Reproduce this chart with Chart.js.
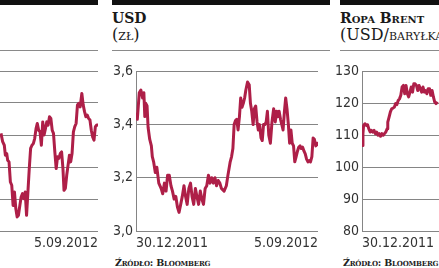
<!DOCTYPE html>
<html><head><meta charset="utf-8">
<script src="https://cdn.jsdelivr.net/npm/chart.js@4/dist/chart.umd.min.js"></script>
<style>
html,body{margin:0;padding:0;background:#fff;width:439px;height:268px;overflow:hidden;position:relative;}
.panel{position:absolute;top:0;width:218px;height:268px;}
.bar{position:absolute;left:0;top:0;width:218px;height:5px;background:#111;}
.rule{position:absolute;left:0;top:50px;width:218px;height:1px;background:#8a8a8a;}
.title{position:absolute;left:0;top:10px;font:bold 14px/16px "DejaVu Serif",serif;color:#1a1a1a;white-space:nowrap;font-variant:small-caps;}
.sub{position:absolute;left:0;top:26px;font:16px/17px "DejaVu Serif",serif;color:#1a1a1a;white-space:nowrap;font-variant:small-caps;}
.src{position:absolute;left:3px;top:257px;font:bold 9.5px/11px "DejaVu Serif",serif;color:#222;white-space:nowrap;font-variant:small-caps;letter-spacing:-0.2px;}
canvas{position:absolute;left:0;top:60px;}
</style></head>
<body>
<div class="panel" style="left:-120px">
  <div class="bar"></div><div class="rule"></div>
  <canvas id="cLeft" width="216" height="195" style="left:6px"></canvas>
</div>
<div class="panel" style="left:112px">
  <div class="bar"></div>
  <div class="title">USD</div>
  <div class="sub">(zł)</div>
  <div class="rule"></div>
  <canvas id="cUsd" width="210" height="195"></canvas>
  <div class="src">Źródło: Bloomberg</div>
</div>
<div class="panel" style="left:340px">
  <div class="bar"></div>
  <div class="title">Ropa Brent</div>
  <div class="sub">(USD/baryłka)</div>
  <div class="rule"></div>
  <canvas id="cBrent" width="214" height="195" style="left:-6px"></canvas>
  <div class="src">Źródło: Bloomberg</div>
</div>
<script>
// x tick labels (dates at ends of the period, day 0 and day 250)
const dateLabels = ['30.12.2011', '5.09.2012'];
const dateDays = [0, 250];

// Left panel (only its right part is visible; values in gridline units)
const leftDays = [121,123.2,125.4,126.8,128.6,129.9,131.7,133.5,135.3,137.1,138.9,140.7,142.5,144.2,146.1,147.8,149.6,151.4,153.2,155,156.8,158.6,160.4,162.2,164,165.8,167.6,169.3,171.1,172.9,174.7,176.5,178.3,180.1,181.9,183.7,185.5,187.3,189.1,190.8,192.6,194.4,196.2,198,199.8,201.6,203.4,204.8,206.6,208.4,210.2,212,213.7,215.5,217.3,219.1,220.9,222.7,224.5,226.3,228.5,230.3,232.1,233.9,235.7,237.5,239.3,241.1,242.9,244.7,246.5,248.3,250];
const leftValues = [3.05,2.79,2.68,2.37,2.42,2.21,2.16,1.53,1.43,0.80,1.22,0.70,0.44,0.49,0.80,1.06,1.17,1.01,1.22,0.49,1.22,1.95,2.58,2.68,2.73,2.89,3.20,3.36,3.15,3.10,2.68,3.41,3.00,3.20,3.41,3.31,3.57,3.52,3.15,3.05,2.47,1.95,2.32,2.27,2.42,2.47,1.95,1.27,1.33,1.74,2.06,2.37,2.16,2.42,3.10,3.26,3.36,3.94,3.99,3.88,4.30,3.94,3.73,3.57,3.62,3.52,3.47,3.15,2.94,2.84,3.26,3.31,3.31];
const leftTicks = [0,1,2,3,4,5];

// USD (zł)
const usdDays = [0,1.8,4.5,6.7,9,10.8,12.1,13.4,15.2,16.6,18.8,21.1,22.4,24.2,26.5,28.6,31.3,34.5,36.7,39,41.3,43.4,45.7,48,50.1,52.4,54.7,56.9,59.1,61.4,63.6,65.9,68.1,70.3,72.6,74.9,77,79.3,81.6,83.7,86,88.3,90.5,92.7,95,97.2,99.5,101.7,103.9,106.2,108.5,110.6,112.9,115.2,117.3,121,124.1,126.3,129.4,131.3,133.1,134.8,136.7,138.4,140.2,142.1,143.8,145.6,147.4,149.2,150.9,153.2,155.5,157.2,159,160.9,162.6,164.4,166.3,168,169.8,171.7,173.4,175.2,177,178.8,180.5,182.4,184.6,186.8,189.1,191.3,193.1,194.9,196.6,198.5,200.3,202,203.9,205.6,207.4,209.3,211,212.8,214.6,216.4,218.1,220,221.8,223.5,225.4,227.1,228.9,230.8,232.5,234.3,236.2,237.9,239.7,241.6,243.3,245,247,248.6,250];
const usdValues = [3.445,3.42,3.52,3.53,3.50,3.52,3.43,3.48,3.47,3.39,3.345,3.32,3.28,3.26,3.22,3.24,3.18,3.16,3.14,3.18,3.15,3.21,3.21,3.17,3.15,3.12,3.13,3.09,3.07,3.10,3.13,3.17,3.13,3.10,3.16,3.18,3.13,3.10,3.16,3.13,3.10,3.15,3.12,3.10,3.16,3.17,3.21,3.18,3.20,3.18,3.20,3.17,3.19,3.18,3.16,3.15,3.17,3.21,3.26,3.28,3.31,3.40,3.415,3.42,3.38,3.43,3.50,3.465,3.48,3.50,3.53,3.56,3.55,3.48,3.45,3.40,3.46,3.47,3.41,3.38,3.40,3.35,3.34,3.40,3.40,3.41,3.45,3.36,3.33,3.41,3.46,3.41,3.45,3.43,3.45,3.42,3.40,3.38,3.45,3.50,3.46,3.40,3.33,3.38,3.33,3.32,3.26,3.28,3.30,3.315,3.32,3.31,3.315,3.30,3.29,3.27,3.26,3.265,3.26,3.28,3.35,3.345,3.32,3.33,3.32];
const usdTicks = [3.0,3.2,3.4,3.6];

// Ropa Brent (USD/baryłka), visible part
const brentDays = [0,1.3,2.2,4,5.8,7.6,9.4,11.2,13,14.8,16.6,18.4,20.2,21.9,23.7,25.5,27.3,29.1,30.9,32.7,34.5,35.4,37.2,39,40.8,42.6,44.4,46.1,47.9,49.7,51.5,53.3,55.1,56.9,58.7,60.5,62.3,64.1,65.9,67.6,69.4,71.2,73,74.8,76.6,78.4,80.2,82,83.8,85.6,87.4,89.1,90.9,92.7,94.5,96.3,98.1,99.9,101.7,103.5];
const brentValues = [106.8,110.5,113.1,113.6,113.1,113.3,112.0,111.0,111.5,111.0,111.5,110.5,111.0,110.0,110.5,109.7,110.5,110.0,110.5,111.0,112.0,114.1,115.7,117.3,118.3,118.5,118.8,119.9,119.6,120.9,121.4,122.5,125.1,125.6,123.0,125.6,123.0,122.0,123.5,125.1,123.5,126.1,126.1,125.6,124.0,125.6,124.6,123.5,125.1,123.5,124.0,123.0,124.6,124.6,122.5,124.0,122.0,120.4,119.9,120.5];
const brentTicks = [80,90,100,110,120,130];

const LINE = '#ae1f48';
const GRID = '#858585';
const TICKFONT = {family: '"Liberation Sans Narrow","DejaVu Sans Condensed",sans-serif', size: 14};

function makeChart(id, days, values, yTicks, fmt, showY, yWidth) {
  const pts = days.map((d, i) => ({x: d, y: values[i]}));
  return new Chart(document.getElementById(id), {
    type: 'line',
    data: {datasets: [{data: pts, borderColor: LINE, borderWidth: 3, pointRadius: 0, tension: 0, fill: false, borderJoinStyle: 'round', borderCapStyle: 'butt'}]},
    options: {
      responsive: false, animation: false,
      layout: {padding: {top: 11, right: 0, bottom: 0, left: 0}},
      plugins: {legend: {display: false}, tooltip: {enabled: false}},
      scales: {
        x: {
          type: 'linear', min: dateDays[0], max: dateDays[dateDays.length - 1],
          afterBuildTicks: s => { s.ticks = dateDays.map(v => ({value: v})); },
          afterFit: s => { s.height = 24; },
          grid: {display: false, drawTicks: false},
          border: {display: false},
          ticks: {autoSkip: false, maxRotation: 0, align: 'inner', padding: 4, color: '#333', font: TICKFONT,
            callback: (v) => dateLabels[dateDays.indexOf(v)]}
        },
        y: {
          min: yTicks[0], max: yTicks[yTicks.length - 1],
          afterBuildTicks: s => { s.ticks = yTicks.map(v => ({value: v})); },
          afterFit: s => { s.width = yWidth; },
          grid: {color: GRID, lineWidth: 1, drawTicks: false},
          border: {display: true, color: GRID, width: 1},
          ticks: {display: showY, padding: 3, color: '#333', font: TICKFONT, callback: fmt}
        }
      }
    }
  });
}

makeChart('cLeft', leftDays, leftValues, leftTicks, v => String(v), false, 24);
makeChart('cUsd', usdDays, usdValues, usdTicks, v => v.toFixed(1).replace('.', ','), true, 24);
makeChart('cBrent', brentDays, brentValues, brentTicks, v => String(v), true, 28);
</script>
</body></html>
